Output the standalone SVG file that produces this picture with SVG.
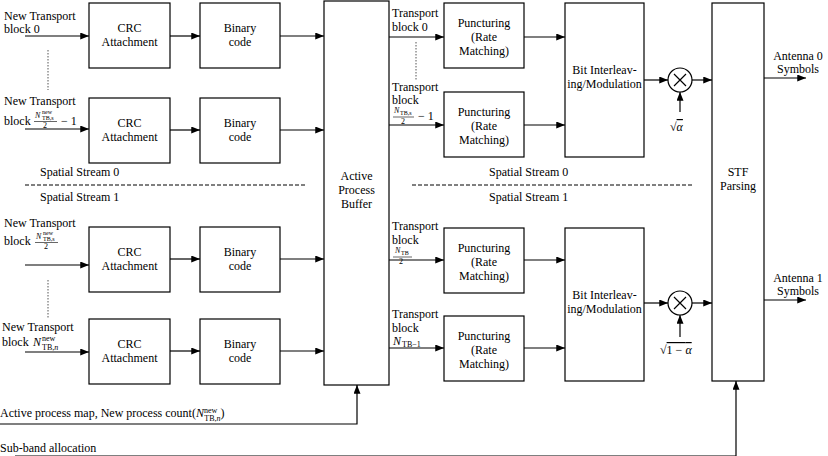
<svg xmlns="http://www.w3.org/2000/svg" width="828" height="456" viewBox="0 0 828 456" font-family="'Liberation Serif','DejaVu Serif','Times New Roman',serif">
<defs>
<marker id="ah" viewBox="0 0 10 8" refX="10" refY="4" markerWidth="9" markerHeight="7" markerUnits="userSpaceOnUse" orient="auto">
<path d="M0,0 L10,4 L0,8 Z" fill="#000"/>
</marker>
<style>
text{font-family:"Liberation Serif","DejaVu Serif","Times New Roman",serif;font-size:12px;fill:#000}
.c{text-anchor:middle}
.box{fill:#fff;stroke:#000;stroke-width:1.2}
.ln{fill:none;stroke:#000;stroke-width:1.2}
.ar{fill:none;stroke:#000;stroke-width:1.2;marker-end:url(#ah)}
.dot{fill:none;stroke:#555;stroke-width:1;stroke-dasharray:1.5,1.5}
.dash{fill:none;stroke:#000;stroke-width:1;stroke-dasharray:4,2}
.m{font-style:italic}
.s{font-size:8px}
.ss{font-size:6px}
</style>
</defs>
<rect width="828" height="456" fill="#fff"/>

<g id="connectors">
<path class="ar" d="M25,36 H89"/>
<path class="ar" d="M25,129 H89"/>
<path class="ar" d="M25,265 H89"/>
<path class="ar" d="M25,352 H89"/>
<path class="ar" d="M170,36 H200"/>
<path class="ar" d="M170,130 H200"/>
<path class="ar" d="M170,259 H200"/>
<path class="ar" d="M170,351 H200"/>
<path class="ar" d="M280,36 H324"/>
<path class="ar" d="M280,130 H324"/>
<path class="ar" d="M280,259 H324"/>
<path class="ar" d="M280,351 H324"/>
<path class="ar" d="M389,37 H444"/>
<path class="ar" d="M389,125 H444"/>
<path class="ar" d="M389,260 H444"/>
<path class="ar" d="M389,348 H444"/>
<path class="ar" d="M524,37 H565"/>
<path class="ar" d="M524,125 H565"/>
<path class="ar" d="M524,260 H565"/>
<path class="ar" d="M524,348 H565"/>
<path class="ar" d="M644,80 H668"/>
<path class="ar" d="M692,80 H712"/>
<path class="ar" d="M680,112 V92"/>
<path class="ar" d="M644,303 H668"/>
<path class="ar" d="M692,303 H712"/>
<path class="ar" d="M680,337 V315"/>
<path class="ar" d="M764,78 H806"/>
<path class="ar" d="M764,300 H806"/>
<path class="ar" d="M0,424 H357 V385"/>
<path class="ar" d="M15,456 H736 V381"/>
<path class="dot" d="M48,50 V90"/>
<path class="dot" d="M48,280 V318"/>
<path class="dot" d="M416,42 V80"/>
<path class="dash" d="M25,185 H305"/>
<path class="dash" d="M412,185 H692"/>
</g>

<g id="crc0"><rect class="box" x="89" y="3" width="81" height="65"/><text class="c" x="129.5" y="32">CRC</text><text class="c" x="129.5" y="46">Attachment</text></g>
<g id="crc1"><rect class="box" x="89" y="98" width="81" height="65"/><text class="c" x="129.5" y="127">CRC</text><text class="c" x="129.5" y="141">Attachment</text></g>
<g id="crc2"><rect class="box" x="89" y="227" width="81" height="65"/><text class="c" x="129.5" y="256">CRC</text><text class="c" x="129.5" y="270">Attachment</text></g>
<g id="crc3"><rect class="box" x="89" y="319" width="81" height="65"/><text class="c" x="129.5" y="348">CRC</text><text class="c" x="129.5" y="362">Attachment</text></g>

<g id="bin0"><rect class="box" x="200" y="3" width="80" height="65"/><text class="c" x="240" y="32">Binary</text><text class="c" x="240" y="46">code</text></g>
<g id="bin1"><rect class="box" x="200" y="98" width="80" height="65"/><text class="c" x="240" y="127">Binary</text><text class="c" x="240" y="141">code</text></g>
<g id="bin2"><rect class="box" x="200" y="227" width="80" height="65"/><text class="c" x="240" y="256">Binary</text><text class="c" x="240" y="270">code</text></g>
<g id="bin3"><rect class="box" x="200" y="319" width="80" height="65"/><text class="c" x="240" y="348">Binary</text><text class="c" x="240" y="362">code</text></g>

<g id="apb"><rect class="box" x="324" y="1" width="65" height="384"/><text class="c" x="356.5" y="180">Active</text><text class="c" x="356.5" y="194">Process</text><text class="c" x="356.5" y="208">Buffer</text></g>

<g id="punc0"><rect class="box" x="444" y="3" width="80" height="65"/><text class="c" x="484" y="27">Puncturing</text><text class="c" x="484" y="41">(Rate</text><text class="c" x="484" y="55">Matching)</text></g>
<g id="punc1"><rect class="box" x="444" y="92" width="80" height="65"/><text class="c" x="484" y="116">Puncturing</text><text class="c" x="484" y="130">(Rate</text><text class="c" x="484" y="144">Matching)</text></g>
<g id="punc2"><rect class="box" x="444" y="228" width="80" height="65"/><text class="c" x="484" y="252">Puncturing</text><text class="c" x="484" y="266">(Rate</text><text class="c" x="484" y="280">Matching)</text></g>
<g id="punc3"><rect class="box" x="444" y="316" width="80" height="65"/><text class="c" x="484" y="340">Puncturing</text><text class="c" x="484" y="354">(Rate</text><text class="c" x="484" y="368">Matching)</text></g>

<g id="bil0"><rect class="box" x="565" y="3" width="79" height="154"/><text class="c" x="604.5" y="74">Bit Interleav-</text><text class="c" x="604.5" y="88">ing/Modulation</text></g>
<g id="bil1"><rect class="box" x="565" y="228" width="79" height="153"/><text class="c" x="604.5" y="299">Bit Interleav-</text><text class="c" x="604.5" y="313">ing/Modulation</text></g>

<g id="mul0"><circle cx="680" cy="80" r="12" fill="#fff" stroke="#000" stroke-width="1.2"/><path class="ln" d="M674,74 L686,86 M686,74 L674,86"/></g>
<g id="mul1"><circle cx="680" cy="303" r="12" fill="#fff" stroke="#000" stroke-width="1.2"/><path class="ln" d="M674,297 L686,309 M686,297 L674,309"/></g>

<g id="stf"><rect class="box" x="712" y="3" width="52" height="378"/><text class="c" x="738" y="176">STF</text><text class="c" x="738" y="190">Parsing</text></g>

<g id="labels">
<text x="4" y="20">New Transport</text>
<text x="4" y="33">block 0</text>
<text x="4" y="105">New Transport</text>
<text x="4" y="125">block</text>
<text class="m s" x="35" y="118">N</text><text class="ss" x="42" y="114">new</text><text class="ss" x="42" y="120">TB,s</text>
<line x1="34" y1="121.5" x2="57" y2="121.5" stroke="#000" stroke-width="0.6"/>
<text class="s" x="43" y="128">2</text>
<text x="61" y="125">− 1</text>

<text x="4" y="227">New Transport</text>
<text x="4" y="245">block</text>
<text class="m s" x="36" y="239">N</text><text class="ss" x="43" y="235">new</text><text class="ss" x="43" y="241">TB,s</text>
<line x1="35" y1="242.5" x2="58" y2="242.5" stroke="#000" stroke-width="0.6"/>
<text class="s" x="44" y="249">2</text>

<text x="2" y="331">New Transport</text>
<text x="2" y="346">block</text>
<text class="m" x="33" y="346">N</text><text class="s" x="42" y="341">new</text><text class="s" x="42" y="350">TB,<tspan class="m">n</tspan></text>

<text x="392" y="17">Transport</text>
<text x="392" y="31">block 0</text>
<text x="392" y="91">Transport</text>
<text x="392" y="104">block</text>
<text class="m s" x="394" y="113">N</text><text class="ss" x="400" y="115">TB,s</text>
<line x1="393" y1="117" x2="414" y2="117" stroke="#000" stroke-width="0.6"/>
<text class="s" x="401" y="124">2</text>
<text x="418" y="120">− 1</text>

<text x="392" y="230">Transport</text>
<text x="392" y="244">block</text>
<text class="m s" x="395" y="253">N</text><text class="ss" x="401" y="255">TB</text>
<line x1="393" y1="257" x2="412" y2="257" stroke="#000" stroke-width="0.6"/>
<text class="s" x="399" y="264">2</text>

<text x="392" y="318">Transport</text>
<text x="392" y="332">block</text>
<text class="m" x="393" y="345">N</text><text class="s" x="402" y="347">TB−1</text>

<text x="40" y="176">Spatial Stream 0</text>
<text x="40" y="201">Spatial Stream 1</text>
<text x="489" y="176">Spatial Stream 0</text>
<text x="489" y="201">Spatial Stream 1</text>

<text class="c" x="798" y="60">Antenna 0</text>
<text class="c" x="798" y="73">Symbols</text>
<text class="c" x="798" y="282">Antenna 1</text>
<text class="c" x="798" y="295">Symbols</text>

<text x="670" y="131">√<tspan class="m" text-decoration="overline">α</tspan></text>
<text x="660" y="354">√<tspan text-decoration="overline">1 − <tspan class="m">α</tspan></tspan></text>

<text x="0" y="417">Active process map, New process count(<tspan class="m">N</tspan><tspan class="s" dy="-4">new</tspan><tspan class="s" dx="-13" dy="8">TB,<tspan class="m">n</tspan></tspan><tspan dy="-4">)</tspan></text>
<text x="0" y="452">Sub-band allocation</text>
</g>
</svg>
